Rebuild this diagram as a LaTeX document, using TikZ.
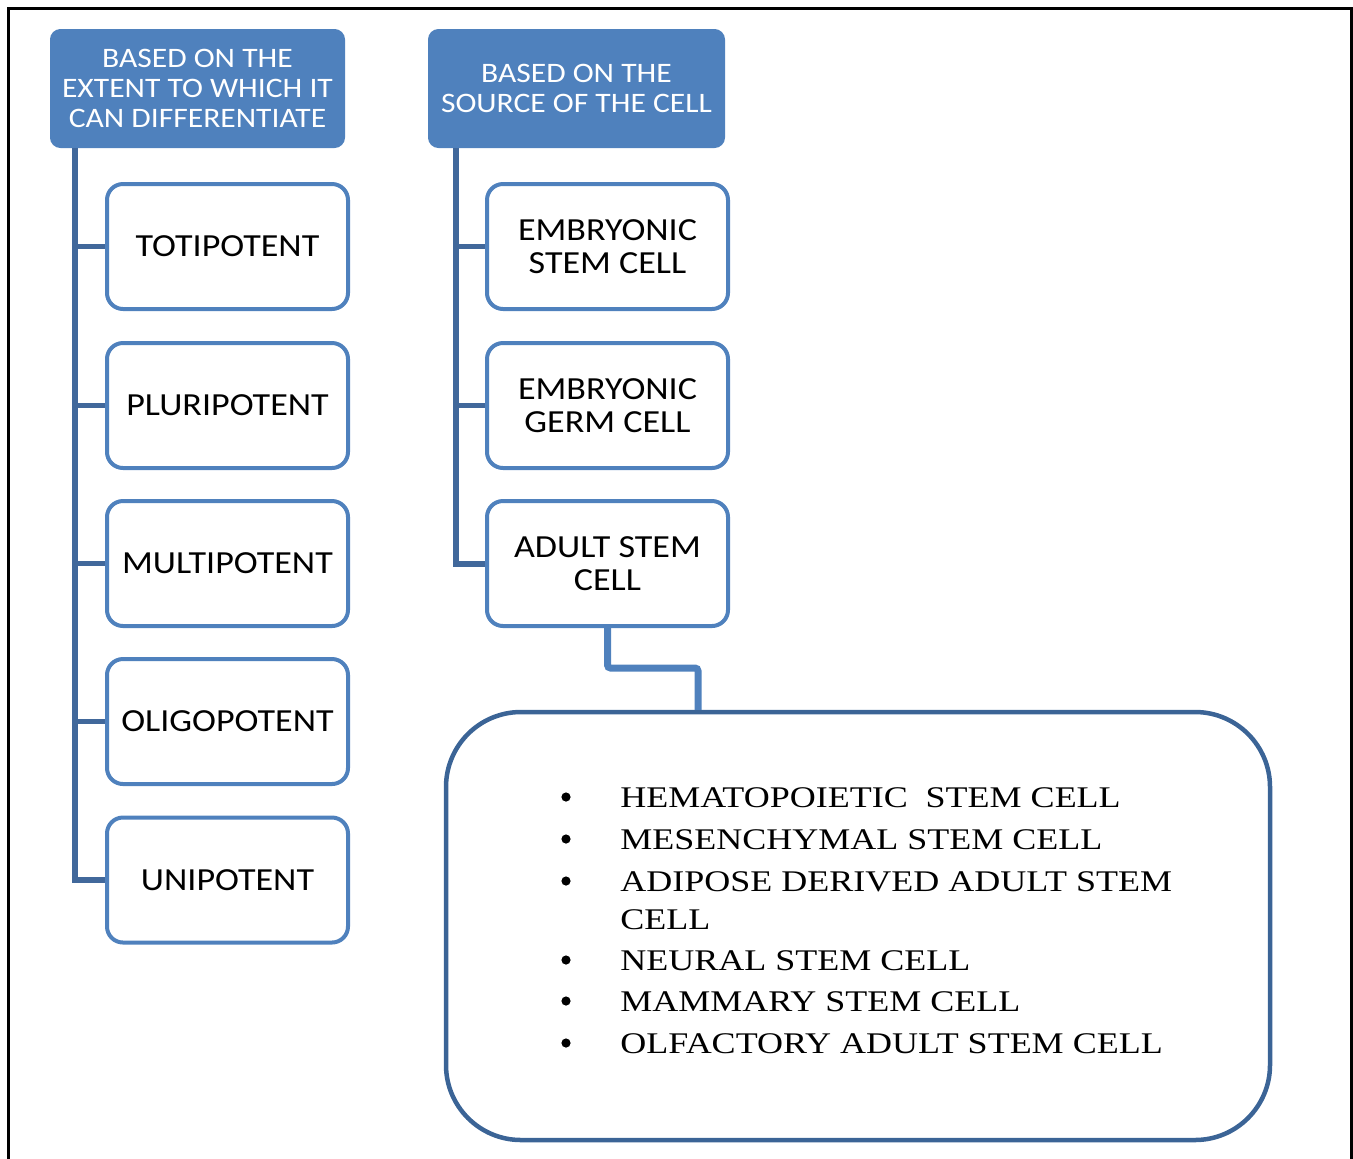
\documentclass[tikz,border=0pt]{standalone}
\usepackage{fontspec}
\newfontfamily\boxfont{Carlito}[FakeStretch=1.12]
\newfontfamily\listfont{Liberation Serif}[FakeStretch=1.2]
\definecolor{boxblue}{HTML}{4F81BD}
\definecolor{trunkblue}{HTML}{41689B}
\definecolor{darkblue}{HTML}{3B6496}

\tikzset{
  headbox/.style={rectangle, rounded corners=5pt, fill=boxblue, draw=boxblue, line width=0.5pt,
    text=white, align=center, font=\boxfont\fontsize{14.1pt}{14.8pt}\selectfont,
    minimum width=147pt, minimum height=59pt},
  kindbox/.style={rectangle, rounded corners=8pt, draw=boxblue, line width=2pt, fill=white,
    align=center, font=\boxfont\fontsize{16.1pt}{16.5pt}\selectfont,
    minimum width=120.5pt, minimum height=62.5pt},
  trunk/.style={trunkblue, line width=3pt},
  branch/.style={trunkblue, line width=2.5pt},
  listtext/.style={font=\listfont\fontsize{15pt}{20.5pt}\selectfont, inner sep=0pt},
  dotmark/.style={circle, fill=black, inner sep=0pt, minimum size=4.6pt}
}

\begin{document}
\begin{tikzpicture}[x=0.5pt,y=-0.5pt]
	\useasboundingbox (0,0) rectangle (1353,1158);
	\draw[black, line width=1.5pt] (8,1160) -- (8,8) -- (1351,8) -- (1351,1160);
	
	% headers
	\node[headbox] (h1) at (197.5,88.5) {BASED ON THE\\EXTENT TO WHICH IT\\CAN DIFFERENTIATE};
	\node[headbox, minimum width=148pt] (h2) at (576.5,88.5) {BASED ON THE\\SOURCE OF THE CELL};
	
	% extent of differentiation
	\node[kindbox] (tot) at (227.5,246.5) {TOTIPOTENT};
	\node[kindbox] (plu) at (227.5,405.5) {PLURIPOTENT};
	\node[kindbox] (mul) at (227.5,563.5) {MULTIPOTENT};
	\node[kindbox] (oli) at (227.5,721.5) {OLIGOPOTENT};
	\node[kindbox] (uni) at (227.5,880) {UNIPOTENT};
	
	% source of the cell
	\node[kindbox] (esc) at (607.5,246.5) {EMBRYONIC\\STEM CELL};
	\node[kindbox] (egc) at (607.5,405.5) {EMBRYONIC\\GERM CELL};
	\node[kindbox] (asc) at (607.5,563.5) {ADULT STEM\\CELL};
	
	\coordinate (lt) at (75,148);
	\coordinate (rt) at (456,148);
	\draw[trunk] (lt) |- (uni.west);
	\draw[branch] (tot.west -| lt) -- (tot.west);
	\draw[branch] (plu.west -| lt) -- (plu.west);
	\draw[branch] (mul.west -| lt) -- (mul.west);
	\draw[branch] (oli.west -| lt) -- (oli.west);
	\draw[trunk] (rt) |- (asc.west);
	\draw[branch] (esc.west -| rt) -- (esc.west);
	\draw[branch] (egc.west -| rt) -- (egc.west);
	
	% adult stem cell types
	\node[rectangle, rounded corners=37.5pt, draw=darkblue, line width=2.25pt,
	  minimum width=412pt, minimum height=214pt] (big) at (858,926) {};
	\coordinate (bend) at (698,668);
	\draw[boxblue, line width=3.5pt, rounded corners=1.5pt] (asc.south) |- (bend) -- (bend |- big.north);
	
	\foreach \i/\y in {1/797,2/839,3/881,5/960,6/1001,7/1043}
	  \node[dotmark] (bu\i) at (566,\y) {};
	\node[listtext, anchor=base west] (li1) at (620,807) {HEMATOPOIETIC\ \ STEM CELL};
	\node[listtext, anchor=base west] (li2) at (620,849) {MESENCHYMAL STEM CELL};
	\node[listtext, anchor=base west] (li3) at (620,891) {ADIPOSE DERIVED ADULT STEM};
	\node[listtext, anchor=base west] (li4) at (620,929) {CELL};
	\node[listtext, anchor=base west] (li5) at (620,970) {NEURAL STEM CELL};
	\node[listtext, anchor=base west] (li6) at (620,1011) {MAMMARY STEM CELL};
	\node[listtext, anchor=base west] (li7) at (620,1053) {OLFACTORY ADULT STEM CELL};
\end{tikzpicture}
\end{document}
